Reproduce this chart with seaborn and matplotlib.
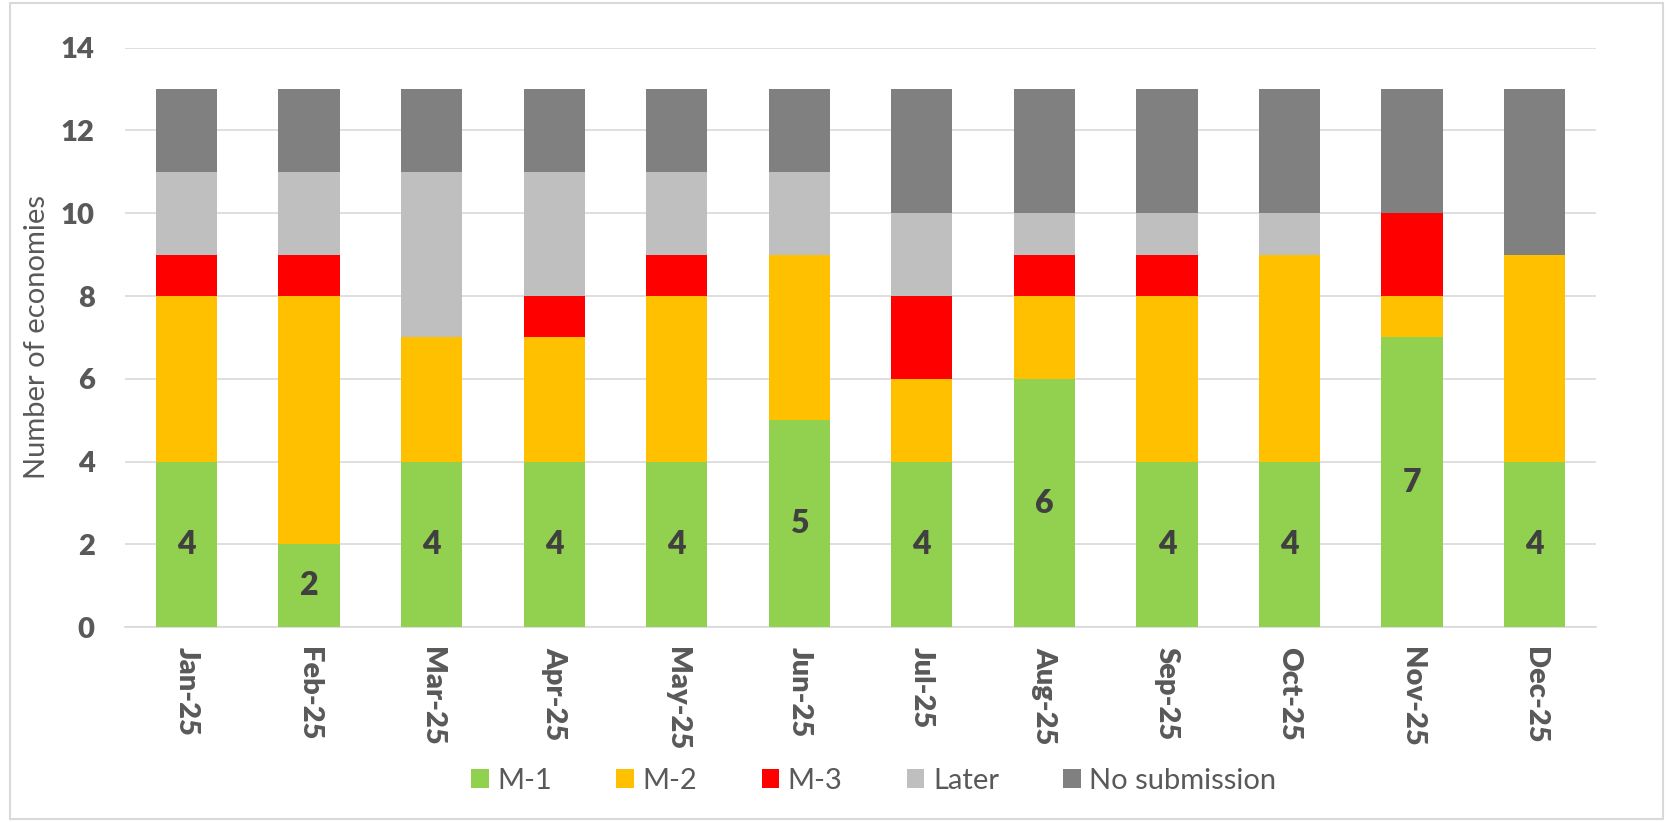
import numpy as np
import pandas as pd
import matplotlib
matplotlib.use("Agg")
import matplotlib.pyplot as plt
from matplotlib.patches import Rectangle
import seaborn as sns

# data
months = ["Jan-25", "Feb-25", "Mar-25", "Apr-25", "May-25", "Jun-25",
          "Jul-25", "Aug-25", "Sep-25", "Oct-25", "Nov-25", "Dec-25"]
m1 = [4, 2, 4, 4, 4, 5, 4, 6, 4, 4, 7, 4]
m2 = [4, 6, 3, 3, 4, 4, 2, 2, 4, 5, 1, 5]
m3 = [1, 1, 0, 1, 1, 0, 2, 1, 1, 0, 2, 0]
later = [2, 2, 4, 3, 2, 2, 2, 1, 1, 1, 0, 0]
no_sub = [2, 2, 2, 2, 2, 2, 3, 3, 3, 3, 3, 4]

series = ["M-1", "M-2", "M-3", "Later", "No submission"]
values = [m1, m2, m3, later, no_sub]
colors = ["#92d050", "#ffc000", "#ff0000", "#bfbfbf", "#808080"]

sns.set_theme(style="white")
plt.rcParams["font.family"] = ["Lato", "DejaVu Sans"]

txt = "#595959"
grid = "#d9d9d9"

fig = plt.figure(figsize=(16.71, 8.22), dpi=100)
ax = fig.add_axes([0.075, 0.237, 0.88, 0.705])

bottom = np.zeros(len(months))
for name, vals, col in zip(series, values, colors):
    df = pd.DataFrame({"month": months, "n": vals})
    sns.barplot(data=df, x="month", y="n", color=col, bottom=bottom,
                width=0.5, label=name, ax=ax, saturation=1, zorder=3,
                linewidth=0, edgecolor=col)
    bottom += np.array(vals)
if ax.get_legend() is not None:
    ax.get_legend().remove()

# labels on the M-1 segment
for i, v in enumerate(m1):
    ax.text(i, v / 2, str(v), ha="center", va="center", fontsize=23,
            fontweight="heavy", family=["Lato", "DejaVu Sans"],
            color="#404040", zorder=4)

ax.set_ylim(0, 14)
ax.set_xlim(-0.5, len(months) - 0.5)
ax.set_yticks(range(0, 15, 2))
ax.yaxis.grid(True, color=grid, linewidth=1.2, zorder=0)
ax.set_xlabel("")
ax.set_ylabel("Number of economies", fontsize=21, color=txt, labelpad=8)

for s in ["top", "right", "left"]:
    ax.spines[s].set_visible(False)
ax.spines["bottom"].set_color(grid)
ax.spines["bottom"].set_linewidth(1.2)

ax.tick_params(axis="y", length=0, pad=22, labelsize=21, labelcolor=txt)
ax.tick_params(axis="x", which="major", length=0, pad=14, labelsize=21,
               labelcolor=txt, labelrotation=-90)
ax.set_xticks(np.arange(-0.5, len(months)), minor=True)
ax.tick_params(axis="x", which="minor", length=10, color=grid, width=1.2)
for lab in ax.get_xticklabels() + ax.get_yticklabels():
    lab.set_fontweight("heavy")

handles, labels = ax.get_legend_handles_labels()
fig.legend(handles, labels, loc="center", bbox_to_anchor=(0.523, 0.05),
           ncol=5, frameon=False, fontsize=21, labelcolor=txt,
           handlelength=0.6, handleheight=0.6, handletextpad=0.3,
           columnspacing=2.2)

fig.patches.append(Rectangle((0.006, 0.004), 0.989, 0.992,
                             transform=fig.transFigure, fill=False,
                             edgecolor=grid, linewidth=1.5))

fig.savefig("out.png", dpi=100)
